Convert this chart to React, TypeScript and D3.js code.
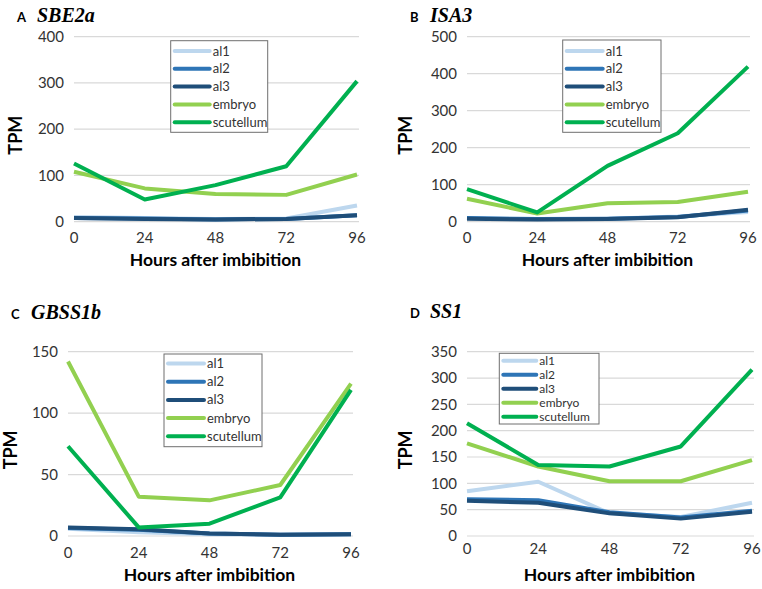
import React from "react";
import * as d3 from "d3";

const hours = [0, 24, 48, 72, 96];
const seriesNames = ["al1", "al2", "al3", "embryo", "scutellum"];
const seriesColors = ["#bdd7ee", "#2e75b6", "#1f4e79", "#92d050", "#00b050"];

// Panel A: SBE2a
const sbe2aAl1 = [10, 8, 6, 7, 35];
const sbe2aAl2 = [8, 7, 5, 6, 14];
const sbe2aAl3 = [8, 6, 5, 6, 14];
const sbe2aEmbryo = [108, 72, 60, 58, 102];
const sbe2aScutellum = [126, 48, 79, 120, 304];
const sbe2aTicks = [0, 100, 200, 300, 400];

// Panel B: ISA3
const isa3Al1 = [10, 7, 8, 14, 26];
const isa3Al2 = [10, 7, 8, 13, 30];
const isa3Al3 = [8, 6, 7, 12, 32];
const isa3Embryo = [62, 22, 50, 53, 81];
const isa3Scutellum = [88, 25, 151, 239, 419];
const isa3Ticks = [0, 100, 200, 300, 400, 500];

// Panel C: GBSS1b
const gbssAl1 = [6, 3, 1.5, 1, 1.5];
const gbssAl2 = [6.5, 5, 2, 1, 1.5];
const gbssAl3 = [7, 5.5, 2, 1, 1.5];
const gbssEmbryo = [142, 32, 29, 41.5, 124];
const gbssScutellum = [73, 7, 10, 31.5, 119];
const gbssTicks = [0, 50, 100, 150];

// Panel D: SS1
const ss1Al1 = [85, 103, 43, 36, 63];
const ss1Al2 = [70, 68, 45, 35, 48];
const ss1Al3 = [67, 63, 43, 33, 46];
const ss1Embryo = [176, 132, 104, 104, 144];
const ss1Scutellum = [214, 135, 132, 170, 316];
const ss1Ticks = [0, 50, 100, 150, 200, 250, 300, 350];

const xLabel = "Hours after imbibition";
const yLabel = "TPM";

type Panel = {
  letter: string;
  gene: string;
  series: number[][];
  ticks: number[];
  x0: number; x1: number; yTop: number; yBot: number;
  titleY: number;
  tpmX: number;
  xTickY: number; xTitleY: number;
  legend: { x: number; y: number; w: number; h: number; row0: number; step: number; fs: number; lineLen: number };
};

const panels: Panel[] = [
  {
    letter: "A", gene: "SBE2a",
    series: [sbe2aAl1, sbe2aAl2, sbe2aAl3, sbe2aEmbryo, sbe2aScutellum],
    ticks: sbe2aTicks,
    x0: 74, x1: 357, yTop: 36.7, yBot: 221.7, titleY: 22, tpmX: 16,
    xTickY: 243, xTitleY: 266,
    legend: { x: 170.7, y: 40.7, w: 97, h: 91.6, row0: 51, step: 17.8, fs: 13, lineLen: 35 },
  },
  {
    letter: "B", gene: "ISA3",
    series: [isa3Al1, isa3Al2, isa3Al3, isa3Embryo, isa3Scutellum],
    ticks: isa3Ticks,
    x0: 467, x1: 748, yTop: 36.7, yBot: 221.7, titleY: 22, tpmX: 406,
    xTickY: 243, xTitleY: 266,
    legend: { x: 562.7, y: 40, w: 98.3, h: 92.3, row0: 51, step: 17.8, fs: 13, lineLen: 36 },
  },
  {
    letter: "C", gene: "GBSS1b",
    series: [gbssAl1, gbssAl2, gbssAl3, gbssEmbryo, gbssScutellum],
    ticks: gbssTicks,
    x0: 68, x1: 351, yTop: 351.7, yBot: 536, titleY: 319, tpmX: 11,
    xTickY: 558, xTitleY: 581,
    legend: { x: 164, y: 354, w: 98, h: 92.7, row0: 363.5, step: 18.2, fs: 13, lineLen: 36 },
  },
  {
    letter: "D", gene: "SS1",
    series: [ss1Al1, ss1Al2, ss1Al3, ss1Embryo, ss1Scutellum],
    ticks: ss1Ticks,
    x0: 467, x1: 752, yTop: 351.7, yBot: 536, titleY: 318, tpmX: 406,
    xTickY: 554, xTitleY: 581,
    legend: { x: 499.3, y: 353.3, w: 99.7, h: 70.7, row0: 360.8, step: 14, fs: 12, lineLen: 33 },
  },
];

const sans = "Lato, 'Open Sans', 'Noto Sans', sans-serif";

function PanelView({ p }: { p: Panel }) {
  const maxT = p.ticks[p.ticks.length - 1];
  const x = d3.scalePoint<number>().domain(hours).range([p.x0, p.x1]);
  const y = d3.scaleLinear().domain([0, maxT]).range([p.yBot, p.yTop]);
  const line = d3
    .line<number>()
    .x((_, i) => x(hours[i]) as number)
    .y((v) => y(v));
  const L = p.legend;
  return (
    <g>
      <text x={p.x0 - 57} y={p.titleY} fontFamily={sans} fontWeight="bold" fontSize={13} fill="#000">
        {p.letter}
      </text>
      <text x={p.x0 - 37} y={p.titleY} fontFamily="'Liberation Serif', 'DejaVu Serif', serif" fontWeight="bold" fontStyle="italic" fontSize={20} fill="#000">
        {p.gene}
      </text>
      {p.ticks.map((t) => (
        <g key={t}>
          <line x1={p.x0} x2={p.x1 + 2} y1={y(t)} y2={y(t)} stroke="#d9d9d9" strokeWidth={1.2} />
          <text x={p.x0 - 10} y={y(t)} dy="0.35em" textAnchor="end" fontFamily={sans} fontSize={15} fill="#333">
            {t}
          </text>
        </g>
      ))}
      {hours.map((h) => (
        <text key={h} x={x(h)} y={p.xTickY} textAnchor="middle" fontFamily={sans} fontSize={15} fill="#333">
          {h}
        </text>
      ))}
      <text x={(p.x0 + p.x1) / 2} y={p.xTitleY} textAnchor="middle" fontFamily={sans} fontWeight="bold" fontSize={17.5} fill="#000">
        {xLabel}
      </text>
      <text
        transform={`translate(${p.tpmX},${(p.yTop + p.yBot) / 2 + 6}) rotate(-90)`}
        textAnchor="middle"
        dy="0.35em"
        fontFamily={sans}
        fontWeight="bold"
        fontSize={18}
        fill="#000"
      >
        {yLabel}
      </text>
      {p.series.map((s, i) => (
        <path
          key={seriesNames[i]}
          d={line(s) || ""}
          fill="none"
          stroke={seriesColors[i]}
          strokeWidth={4}
          strokeLinejoin="round"
        />
      ))}
      <rect x={L.x} y={L.y} width={L.w} height={L.h} fill="#fff" stroke="#6f6f6f" strokeWidth={1} />
      {seriesNames.map((n, i) => (
        <g key={n}>
          <line
            x1={L.x + 4}
            x2={L.x + 4 + L.lineLen}
            y1={L.row0 + i * L.step}
            y2={L.row0 + i * L.step}
            stroke={seriesColors[i]}
            strokeWidth={4}
            strokeLinecap="round"
          />
          <text x={L.x + 7 + L.lineLen} y={L.row0 + i * L.step} dy="0.35em" fontFamily={sans} fontSize={L.fs} fill="#333">
            {n}
          </text>
        </g>
      ))}
    </g>
  );
}

export default function App() {
  return (
    <svg width={762} height={589} style={{ position: "absolute", left: 0, top: 0, background: "#fff" }}>
      <rect width={762} height={589} fill="#fff" />
      {panels.map((p) => (
        <PanelView key={p.letter} p={p} />
      ))}
    </svg>
  );
}
